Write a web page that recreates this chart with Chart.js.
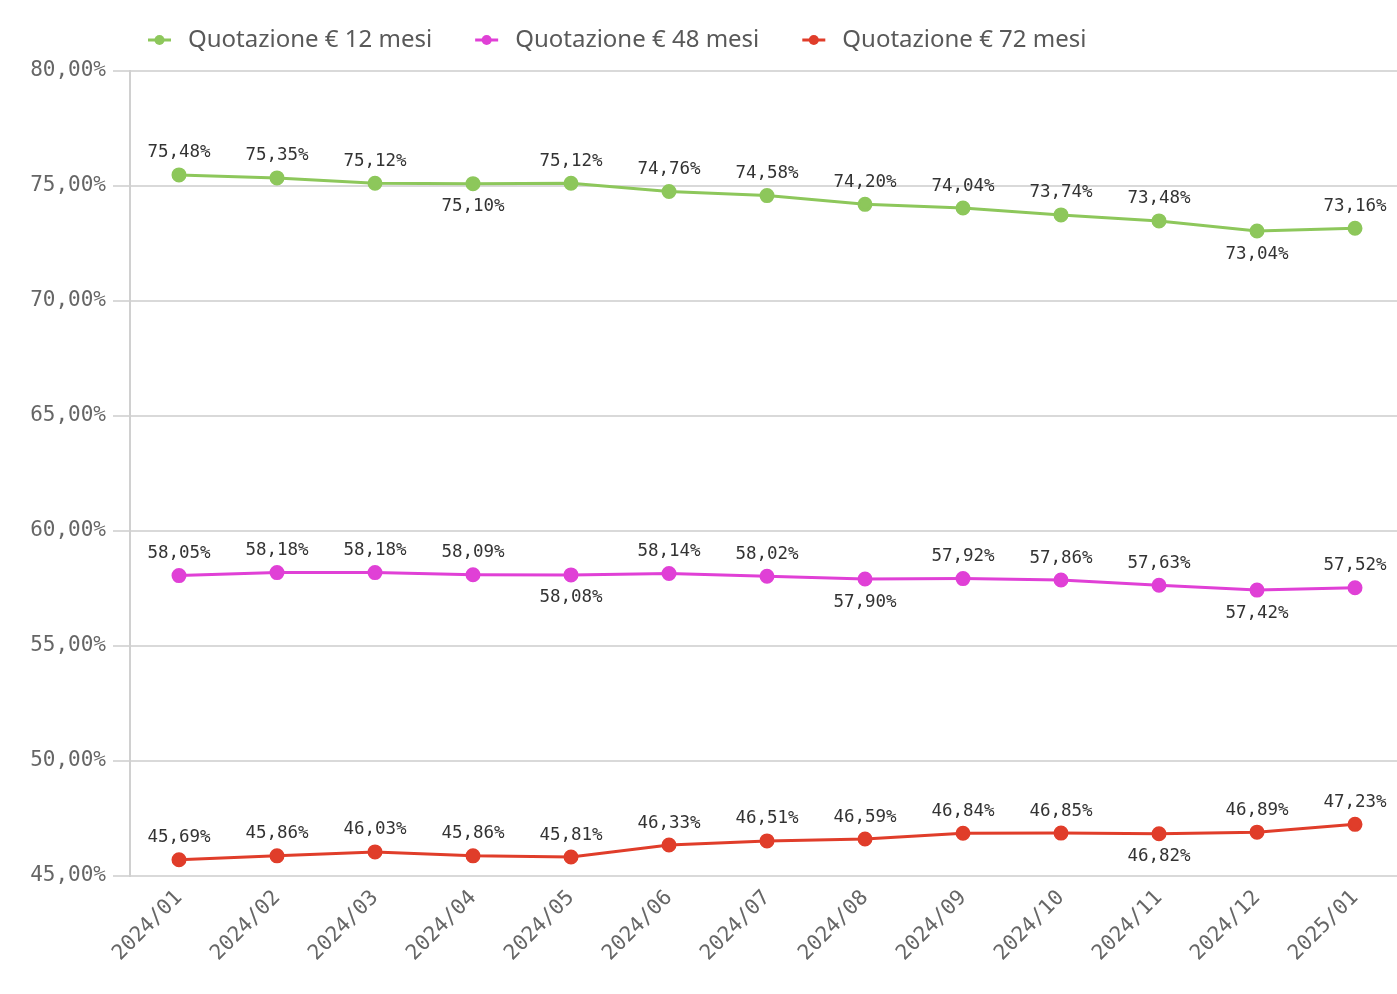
<!DOCTYPE html>
<html>
<head>
<meta charset="utf-8">
<script src="https://cdn.jsdelivr.net/npm/chart.js@4"></script>
<style>
  html, body {margin: 0; padding: 0; background: #fff; overflow: hidden;}
  #box {width: 1413px; height: 994px;}
</style>
</head>
<body>
<div id="box"><canvas id="quotazioni"></canvas></div>
<script>
const months = ['2024/01', '2024/02', '2024/03', '2024/04', '2024/05', '2024/06', '2024/07',
                '2024/08', '2024/09', '2024/10', '2024/11', '2024/12', '2025/01'];
const mesi12 = [75.48, 75.35, 75.12, 75.10, 75.12, 74.76, 74.58, 74.20, 74.04, 73.74, 73.48, 73.04, 73.16];
const mesi48 = [58.05, 58.18, 58.18, 58.09, 58.08, 58.14, 58.02, 57.90, 57.92, 57.86, 57.63, 57.42, 57.52];
const mesi72 = [45.69, 45.86, 46.03, 45.86, 45.81, 46.33, 46.51, 46.59, 46.84, 46.85, 46.82, 46.89, 47.23];
const seriesNames = ['Quotazione € 12 mesi', 'Quotazione € 48 mesi', 'Quotazione € 72 mesi'];
const yTicks = [45, 50, 55, 60, 65, 70, 75, 80];

// which labels sit under the point instead of over it
const labelsBelow = [[3, 11], [4, 7, 11], [10]];

const colors = ['#8dc75b', '#e040d6', '#e03d2a'];
const fmt = v => v.toFixed(2).replace('.', ',') + '%';

const pointLabels = {
    id: 'pointLabels',
    afterDatasetsDraw(chart) {
        const ctx = chart.ctx;
        ctx.save();
        ctx.font = '17.5px "DejaVu Sans Mono"';
        ctx.fillStyle = '#333';
        ctx.textAlign = 'center';
        ctx.textBaseline = 'middle';
        chart.data.datasets.forEach((ds, i) => {
            chart.getDatasetMeta(i).data.forEach((pt, j) => {
                const below = labelsBelow[i].includes(j);
                ctx.fillText(fmt(ds.data[j]), pt.x, pt.y + (below ? 23 : -22));
            });
        });
        ctx.restore();
    }
};

const lineLegend = {
    id: 'lineLegend',
    afterDraw(chart) {
        const ctx = chart.ctx;
        ctx.save();
        ctx.font = '24px "Noto Sans"';
        ctx.textBaseline = 'middle';
        let x = 148;
        const y = 40;
        chart.data.datasets.forEach((ds, i) => {
            ctx.strokeStyle = colors[i];
            ctx.fillStyle = colors[i];
            ctx.lineWidth = 3;
            ctx.beginPath();
            ctx.moveTo(x, y);
            ctx.lineTo(x + 23, y);
            ctx.stroke();
            ctx.beginPath();
            ctx.arc(x + 11.5, y, 5, 0, Math.PI * 2);
            ctx.fill();
            ctx.fillStyle = '#595959';
            ctx.fillText(ds.label, x + 40, y);
            x += 40 + ctx.measureText(ds.label).width + 43;
        });
        ctx.restore();
    }
};

new Chart(document.getElementById('quotazioni'), {
    type: 'line',
    data: {
        labels: months,
        datasets: [mesi12, mesi48, mesi72].map((d, i) => ({
            label: seriesNames[i],
            data: d,
            borderColor: colors[i],
            backgroundColor: colors[i],
            borderWidth: 3,
            pointRadius: 6,
            pointHoverRadius: 6,
            tension: 0
        }))
    },
    options: {
        responsive: true,
        maintainAspectRatio: false,
        animation: false,
        layout: {padding: {top: 71, left: 5, right: 0, bottom: 18}},
        plugins: {legend: {display: false}, tooltip: {enabled: false}},
        scales: {
            x: {
                offset: true,
                grid: {display: false, drawTicks: false},
                border: {display: false},
                ticks: {
                    maxRotation: 45,
                    minRotation: 45,
                    padding: 10,
                    color: '#666',
                    font: {family: 'DejaVu Sans Mono', size: 21}
                }
            },
            y: {
                min: 45,
                max: 80,
                afterBuildTicks: scale => { scale.ticks = yTicks.map(v => ({value: v})); },
                afterFit: scale => { scale.width = 125; },
                grid: {color: '#d9d9d9', lineWidth: 2, tickLength: 17},
                border: {display: true, color: '#d0d0d0', width: 2},
                ticks: {
                    padding: 7,
                    color: '#666',
                    font: {family: 'DejaVu Sans Mono', size: 21},
                    callback: v => v.toFixed(2).replace('.', ',') + '%'
                }
            }
        }
    },
    plugins: [pointLabels, lineLegend]
});
</script>
</body>
</html>
